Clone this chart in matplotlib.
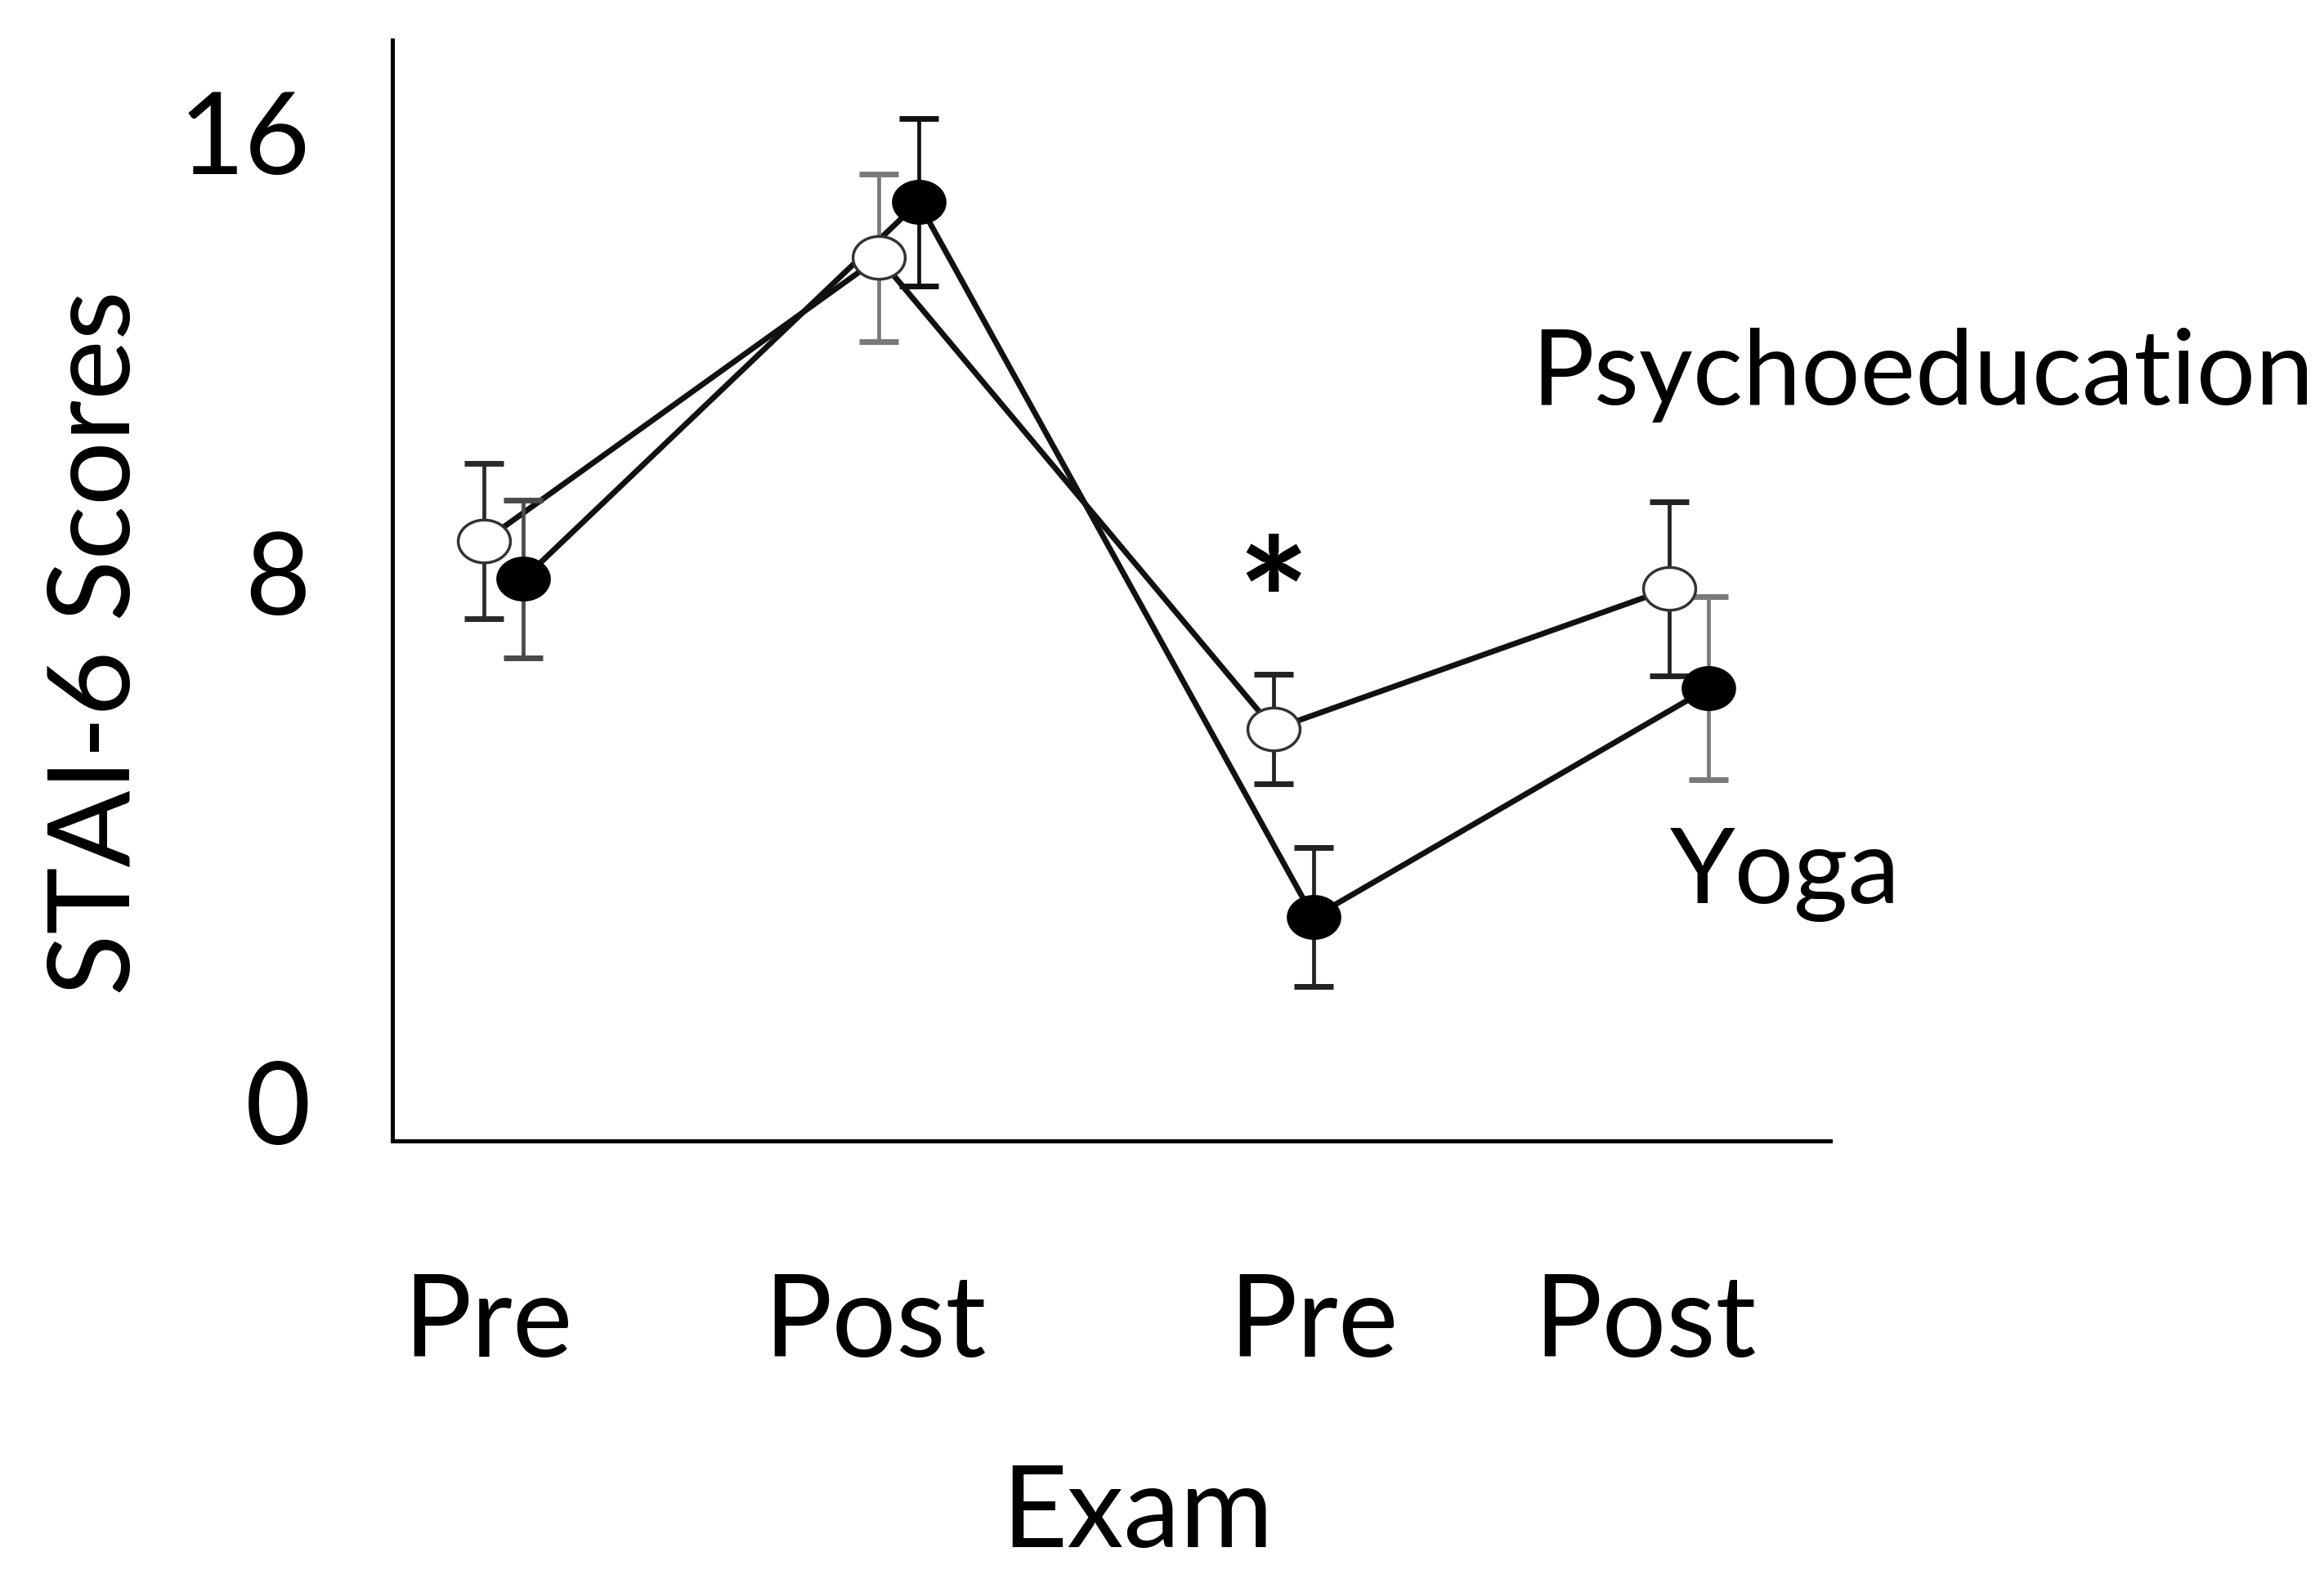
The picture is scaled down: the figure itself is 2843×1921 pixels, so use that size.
import numpy as np
import matplotlib
matplotlib.use("Agg")
import matplotlib.pyplot as plt
from matplotlib.path import Path
from matplotlib.transforms import ScaledTranslation

plt.rcParams['font.family'] = ['Lato', 'DejaVu Sans']

# data
exams = ['Pre', 'Post', 'Pre', 'Post']
psycho_mean = [8.47, 12.75, 5.63, 7.75]
psycho_err = [1.17, 1.27, 0.83, 1.32]
yoga_mean = [7.90, 13.59, 2.79, 6.25]
yoga_err = [1.19, 1.27, 1.05, 1.38]
y_ticks = [0, 8, 16]

# layout
x_psy = np.arange(1, 5)
x_yoga = x_psy + 0.1
x_label_pos = [1.01, 1.99, 3.1, 3.94]
psy_err_colors = ['#2a2a2a', '#7a7a7a', '#222222', '#222222']
yoga_err_colors = ['#4a4a4a', '#111111', '#222222', '#7a7a7a']

# slightly wide ellipse marker, like the original
t = np.linspace(0, 2 * np.pi, 65)
oval = Path(np.column_stack([1.22 * np.cos(t), np.sin(t)]), closed=True)

fig = plt.figure(figsize=(28.43, 19.21), dpi=100)
ax = fig.add_axes([0.1688, 0.2733, 0.6187, 0.7012])

ax.plot(x_psy, psycho_mean, color='#111111', lw=5, zorder=1)
ax.plot(x_yoga, yoga_mean, color='#111111', lw=5, zorder=1)

for i in range(4):
    ax.errorbar(x_psy[i], psycho_mean[i], yerr=psycho_err[i], fmt='none',
                ecolor=psy_err_colors[i], elinewidth=3.4, capsize=17, capthick=5, zorder=2)
    ax.errorbar(x_yoga[i], yoga_mean[i], yerr=yoga_err[i], fmt='none',
                ecolor=yoga_err_colors[i], elinewidth=3.4, capsize=17, capthick=5, zorder=2)

ax.plot(x_psy, psycho_mean, ls='none', marker=oval, ms=46, mfc='white',
        mec='#333333', mew=2.5, zorder=3)
ax.plot(x_yoga, yoga_mean, ls='none', marker=oval, ms=47, mfc='black',
        mec='black', mew=1, zorder=3)

ax.set_xlim(0.768, 4.408)
ax.set_ylim(-0.59, 16.04)

for s in ['top', 'right']:
    ax.spines[s].set_visible(False)
for s in ['left', 'bottom']:
    ax.spines[s].set_linewidth(3.6)
    ax.spines[s].set_color('black')

ax.set_xticks(x_label_pos)
ax.set_xticklabels(exams)
ax.set_yticks(y_ticks)
ax.set_yticklabels([str(v) for v in y_ticks])
ax.tick_params(axis='both', length=0, labelsize=100)
ax.tick_params(axis='x', pad=116)
ax.tick_params(axis='y', pad=72)

# the "16" label sits lower than its value in the original
lbl16 = ax.get_yticklabels()[2]
lbl16.set_transform(lbl16.get_transform() + ScaledTranslation(0, -1.09, fig.dpi_scale_trans))

fig.text(120 / 2843, 1 - 787 / 1921, 'STAI-6 Scores', rotation=90,
         ha='center', va='center', fontsize=100)
fig.text(1392 / 2843, 1 - 1893 / 1921, 'Exam', ha='center', va='baseline', fontsize=100)
fig.text(1873 / 2843, 1 - 495 / 1921, 'Psychoeducation', ha='left', va='baseline', fontsize=92)
fig.text(2043 / 2843, 1 - 1105 / 1921, 'Yoga', ha='left', va='baseline', fontsize=92)
fig.text(1558 / 2843, 1 - 752 / 1921, '*', ha='center', va='center', fontsize=150,
         fontweight='bold')

fig.savefig('out.png', dpi=100, facecolor='white')
